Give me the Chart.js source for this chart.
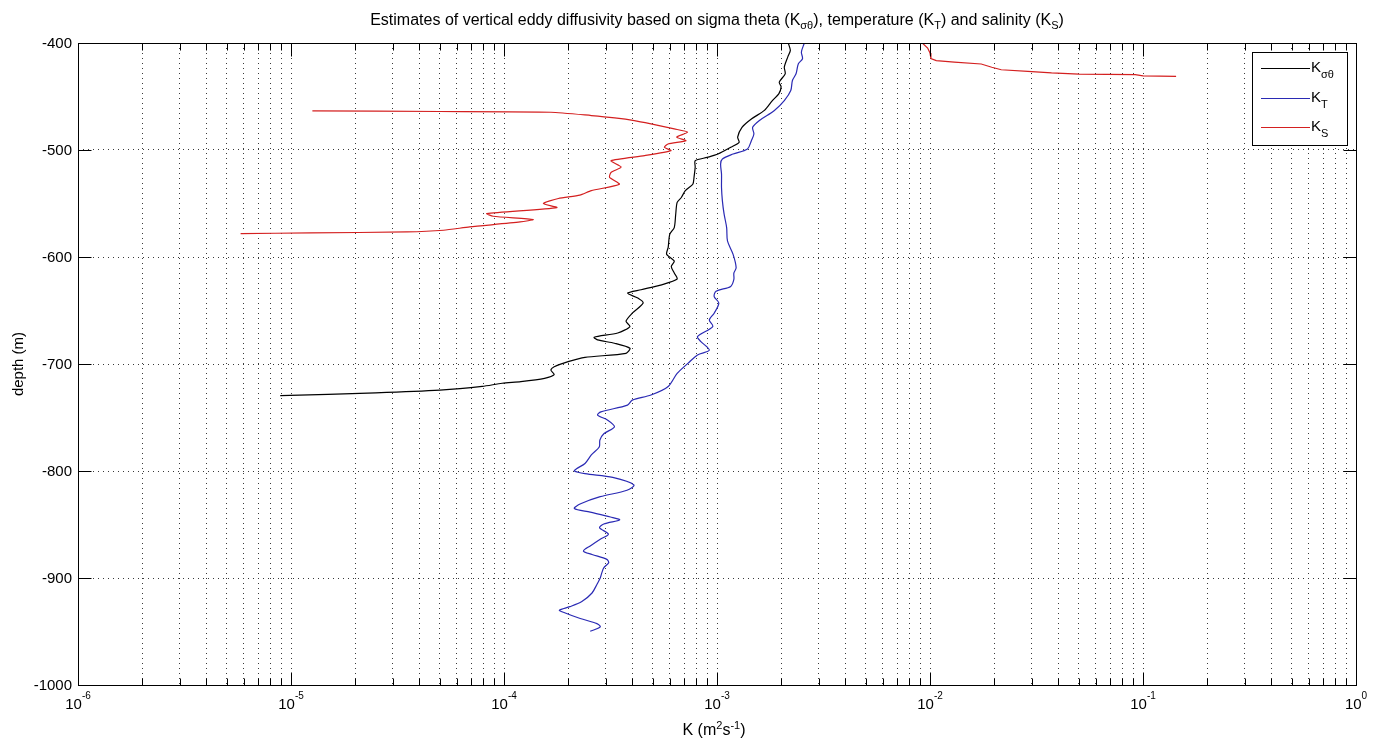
<!DOCTYPE html>
<html>
<head>
<meta charset="utf-8">
<title>Vertical eddy diffusivity</title>
<script src="https://cdn.jsdelivr.net/npm/chart.js@4.4.1/dist/chart.umd.min.js"></script>
<style>
  html, body { margin: 0; padding: 0; background: #fff; }
  #chart { display: block; }
</style>
</head>
<body>
<canvas id="chart" width="1382" height="740"></canvas>
<script>
// axis ticks
const depthTicks = [-1000, -900, -800, -700, -600, -500, -400];
const kDecades = [1e-6, 1e-5, 1e-4, 1e-3, 1e-2, 1e-1, 1];
const kDecadeExponents = ["-6", "-5", "-4", "-3", "-2", "-1", "0"];
const kMinorSteps = [2, 3, 4, 5, 6, 7, 8, 9];

// K_sigma-theta (black)
const sigmaDepth = [-400, -406.9, -413, -422.5, -428.8, -436.6, -441, -447.5, -453.8, -463, -471, -478.8, -488, -492.8,
  -497.5, -503.8, -506.9, -510, -516, -525.6, -532, -538, -544.4, -549, -560, -572.5, -578.8, -591, -597.5, -603.8,
  -608.8, -615, -620.6, -626, -630.6, -633.8, -638.4, -643, -652.5, -660, -665, -671, -675, -677.5, -680.6, -685.3,
  -690, -693.8, -697.8, -702.5, -705.6, -710, -713.4, -716.5, -718, -721, -724.5, -727, -729.5];
const sigmaK = [2.16e-3, 2.21e-3, 2.15e-3, 2.07e-3, 2.09e-3, 1.96e-3, 2.0e-3, 1.95e-3, 1.82e-3, 1.67e-3, 1.45e-3, 1.31e-3, 1.25e-3, 1.27e-3,
  1.16e-3, 1.01e-3, 9.0e-4, 7.9e-4, 7.9e-4, 7.8e-4, 7.7e-4, 7.1e-4, 6.8e-4, 6.5e-4, 6.4e-4, 6.3e-4, 6.0e-4, 5.9e-4, 5.8e-4, 6.3e-4,
  6.1e-4, 6.3e-4, 6.5e-4, 5.5e-4, 4.4e-4, 3.8e-4, 4.25e-4, 4.5e-4, 4.0e-4, 3.74e-4, 3.9e-4, 3.42e-4, 2.65e-4, 2.75e-4, 3.3e-4, 3.9e-4,
  3.74e-4, 2.4e-4, 2.0e-4, 1.72e-4, 1.66e-4, 1.72e-4, 1.55e-4, 1.2e-4, 9.8e-5, 7.9e-5, 5.0e-5, 2.5e-5, 8.9e-6];

// K_T (blue)
const tempDepth = [-400, -408.5, -414.7, -419.4, -428.8, -435, -444.4, -453.8, -463, -472.5, -478.8, -485, -491.3, -499,
  -503.8, -508.4, -513, -522.5, -535, -547.5, -560, -572.5, -585, -597.5, -610, -615, -621, -627.5, -632, -637, -643,
  -652.5, -658.8, -665, -674.4, -679, -687, -691.5, -699.4, -708.8, -721, -729, -733.8, -738.4, -744.7, -747.8, -752.5,
  -758.8, -765, -771, -777.5, -785, -793, -797.8, -800, -802.5, -806, -813, -818, -824, -830.6, -835, -838.5, -843,
  -845.7, -849.5, -853, -859, -863.7, -870, -874.8, -878, -882.6, -885.8, -890.5, -895, -900, -906, -914, -922, -926.8,
  -930, -932, -937.9, -942.6, -945.7, -949.8];
const tempK = [2.57e-3, 2.49e-3, 2.52e-3, 2.41e-3, 2.35e-3, 2.26e-3, 2.22e-3, 2.07e-3, 1.86e-3, 1.58e-3, 1.47e-3, 1.49e-3, 1.45e-3, 1.39e-3,
  1.19e-3, 1.06e-3, 1.04e-3, 1.05e-3, 1.05e-3, 1.06e-3, 1.08e-3, 1.11e-3, 1.12e-3, 1.19e-3, 1.23e-3, 1.2e-3, 1.2e-3, 1.16e-3, 9.9e-4, 9.7e-4, 1.02e-3,
  9.7e-4, 9.2e-4, 9.55e-4, 8.1e-4, 8.4e-4, 9.2e-4, 8.1e-4, 7.3e-4, 6.5e-4, 5.9e-4, 4.9e-4, 4.0e-4, 3.8e-4, 2.85e-4, 2.75e-4, 3.07e-4,
  3.3e-4, 2.95e-4, 2.82e-4, 2.8e-4, 2.57e-4, 2.4e-4, 2.19e-4, 2.14e-4, 2.4e-4, 3.24e-4, 4.07e-4, 3.78e-4, 2.83e-4, 2.29e-4, 2.14e-4, 2.54e-4, 3.16e-4,
  3.49e-4, 2.94e-4, 2.81e-4, 3.09e-4, 2.83e-4, 2.54e-4, 2.36e-4, 2.59e-4, 3.04e-4, 3.1e-4, 2.94e-4, 2.88e-4, 2.83e-4, 2.73e-4, 2.59e-4, 2.32e-4, 2.04e-4,
  1.82e-4, 1.9e-4, 2.28e-4, 2.73e-4, 2.83e-4, 2.54e-4];

// K_S (red), upper piece near the top edge
const saltUpperDepth = [-400, -404.7, -409.3, -414.6, -416.5, -417.8, -419.6, -422.7, -425, -426.5, -428, -429, -429.6, -430.8, -431.2];
const saltUpperK = [9.2e-3, 9.75e-3, 1.0e-2, 1.01e-2, 1.07e-2, 1.3e-2, 1.74e-2, 1.95e-2, 2.16e-2, 2.88e-2, 3.72e-2, 5.0e-2, 9.2e-2, 1.0e-1, 1.43e-1];

// K_S (red), main piece
const saltDepth = [-463.5, -464, -464.7, -467.8, -470, -472.5, -475.6, -480.3, -483.4, -488, -491.3, -494.4, -497.5, -500.6,
  -505.3, -510, -516, -521, -525.6, -532, -538, -542.2, -545.3, -550, -553.8, -559.4, -561.9, -565, -567.2, -571.9,
  -575, -576.6, -577.5, -578.1];
const saltK = [1.26e-5, 5.0e-5, 1.66e-4, 2.57e-4, 3.31e-4, 4.09e-4, 4.9e-4, 6.3e-4, 7.28e-4, 6.46e-4, 7.15e-4, 5.89e-4, 5.66e-4, 6.08e-4,
  4.57e-4, 3.18e-4, 3.55e-4, 3.18e-4, 3.13e-4, 3.48e-4, 2.57e-4, 2.27e-4, 1.8e-4, 1.53e-4, 1.77e-4, 8.3e-5, 8.9e-5, 1.37e-4, 1.19e-4, 6.9e-5,
  5.2e-5, 3.5e-5, 1.23e-5, 5.8e-6];

const colors = {
  sigma: "#000000",
  temp: "#2a2ab4",
  salt: "#d42020",
  grid: "#3a3a3a",
  ink: "#000000",
};

const fontFamily = "'Liberation Sans', Arial, sans-serif";

function toPoints(ks, depths) {
  return ks.map((k, i) => ({ x: k, y: depths[i] }));
}

function lineDataset(label, ks, depths, color, tension) {
  return {
    label,
    data: toPoints(ks, depths),
    showLine: true,
    borderColor: color,
    backgroundColor: color,
    borderWidth: 1.2,
    pointRadius: 0,
    fill: false,
    tension,
  };
}

const kGridValues = [];
kDecades.forEach((decade, i) => {
  kGridValues.push(decade);
  if (i < kDecades.length - 1) {
    kMinorSteps.forEach((step) => kGridValues.push(step * decade));
  }
});

// draws a run of text pieces, each with its own size and vertical shift
function drawRuns(ctx, runs, x, y, align) {
  const widths = runs.map((run) => {
    ctx.font = `${run.size}px ${fontFamily}`;
    return ctx.measureText(run.text).width;
  });
  const total = widths.reduce((a, b) => a + b, 0);
  let cursor = align === "center" ? x - total / 2 : align === "right" ? x - total : x;
  runs.forEach((run, i) => {
    ctx.font = `${run.size}px ${fontFamily}`;
    ctx.textAlign = "left";
    ctx.textBaseline = "alphabetic";
    ctx.fillText(run.text, cursor, y + (run.dy || 0));
    cursor += widths[i];
  });
}

const matlabFrame = {
  id: "matlabFrame",
  afterDraw(chart) {
    const { ctx, chartArea: area } = chart;
    const xScale = chart.scales.x;
    const yScale = chart.scales.y;
    const left = Math.round(area.left) + 0.5;
    const right = Math.round(area.right) + 0.5;
    const top = Math.round(area.top) + 0.5;
    const bottom = Math.round(area.bottom) + 0.5;

    ctx.save();
    ctx.strokeStyle = colors.ink;
    ctx.fillStyle = colors.ink;
    ctx.lineWidth = 1;
    ctx.strokeRect(left, top, right - left, bottom - top);

    // inward ticks, major and minor
    ctx.beginPath();
    kGridValues.forEach((value) => {
      const px = Math.round(xScale.getPixelForValue(value)) + 0.5;
      const len = kDecades.includes(value) ? 13 : 7;
      ctx.moveTo(px, bottom);
      ctx.lineTo(px, bottom - len);
      ctx.moveTo(px, top);
      ctx.lineTo(px, top + len);
    });
    depthTicks.forEach((value) => {
      const py = Math.round(yScale.getPixelForValue(value)) + 0.5;
      ctx.moveTo(left, py);
      ctx.lineTo(left + 13, py);
      ctx.moveTo(right, py);
      ctx.lineTo(right - 13, py);
    });
    ctx.stroke();

    // y tick labels
    ctx.font = `15px ${fontFamily}`;
    ctx.textAlign = "right";
    ctx.textBaseline = "middle";
    depthTicks.forEach((value) => {
      ctx.fillText(String(value), area.left - 6, yScale.getPixelForValue(value) + 1);
    });

    // x tick labels, 10 with superscript exponent
    kDecades.forEach((value, i) => {
      const px = xScale.getPixelForValue(value);
      drawRuns(ctx, [
        { text: "10", size: 15 },
        { text: kDecadeExponents[i], size: 10, dy: -10 },
      ], px, area.bottom + 24, "center");
    });

    // title
    drawRuns(ctx, [
      { text: "Estimates of vertical eddy diffusivity based on sigma theta (K", size: 16 },
      { text: "σθ", size: 11, dy: 4 },
      { text: "), temperature (K", size: 16 },
      { text: "T", size: 11, dy: 4 },
      { text: ") and salinity (K", size: 16 },
      { text: "S", size: 11, dy: 4 },
      { text: ")", size: 16 },
    ], (area.left + area.right) / 2, 25, "center");

    // x axis label
    drawRuns(ctx, [
      { text: "K (m", size: 16 },
      { text: "2", size: 11, dy: -6 },
      { text: "s", size: 16 },
      { text: "-1", size: 11, dy: -6 },
      { text: ")", size: 16 },
    ], (area.left + area.right) / 2 - 3, 735, "center");

    // y axis label
    ctx.save();
    ctx.translate(23, (area.top + area.bottom) / 2);
    ctx.rotate(-Math.PI / 2);
    ctx.font = `15px ${fontFamily}`;
    ctx.textAlign = "center";
    ctx.textBaseline = "alphabetic";
    ctx.fillText("depth (m)", 0, 0);
    ctx.restore();

    // legend
    const box = { x: 1252.5, y: 52.5, w: 95, h: 93 };
    ctx.fillStyle = "#ffffff";
    ctx.fillRect(box.x, box.y, box.w, box.h);
    ctx.strokeStyle = colors.ink;
    ctx.lineWidth = 1;
    ctx.strokeRect(box.x, box.y, box.w, box.h);
    const entries = [
      { color: colors.sigma, sub: "σθ", y: 68 },
      { color: colors.temp, sub: "T", y: 98 },
      { color: colors.salt, sub: "S", y: 127 },
    ];
    entries.forEach((entry) => {
      ctx.strokeStyle = entry.color;
      ctx.lineWidth = 1.2;
      ctx.beginPath();
      ctx.moveTo(1261, entry.y + 0.5);
      ctx.lineTo(1310, entry.y + 0.5);
      ctx.stroke();
      ctx.fillStyle = colors.ink;
      drawRuns(ctx, [
        { text: "K", size: 15 },
        { text: entry.sub, size: 11, dy: 6 },
      ], 1311, entry.y + 4, "left");
    });
    ctx.restore();
  },
};

new Chart(document.getElementById("chart"), {
  type: "scatter",
  data: {
    datasets: [
      lineDataset("K_sigma_theta", sigmaK, sigmaDepth, colors.sigma, 0.25),
      lineDataset("K_T", tempK, tempDepth, colors.temp, 0.3),
      lineDataset("K_S", saltUpperK, saltUpperDepth, colors.salt, 0),
      lineDataset("K_S", saltK, saltDepth, colors.salt, 0.2),
    ],
  },
  options: {
    responsive: false,
    devicePixelRatio: 1,
    animation: false,
    layout: { padding: { left: 78, top: 43, right: 26, bottom: 55 } },
    plugins: {
      legend: { display: false },
      tooltip: { enabled: false },
      title: { display: false },
    },
    scales: {
      x: {
        type: "logarithmic",
        min: 1e-6,
        max: 1,
        afterBuildTicks(scale) {
          scale.ticks = kGridValues.map((value) => ({ value }));
        },
        ticks: { display: false },
        grid: { color: colors.grid, lineWidth: 1, drawTicks: false },
        border: { display: false, dash: [1, 4] },
      },
      y: {
        type: "linear",
        min: -1000,
        max: -400,
        afterBuildTicks(scale) {
          scale.ticks = depthTicks.map((value) => ({ value }));
        },
        ticks: { display: false },
        grid: { color: colors.grid, lineWidth: 1, drawTicks: false },
        border: { display: false, dash: [1, 4] },
      },
    },
  },
  plugins: [matlabFrame],
});
</script>
</body>
</html>
